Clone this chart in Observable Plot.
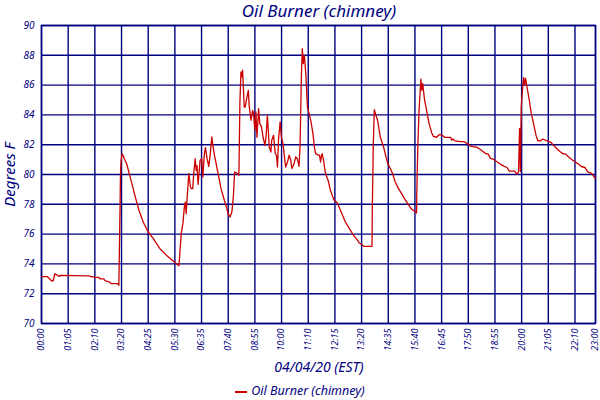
<!DOCTYPE html>
<html><head><meta charset="utf-8">
<script src="https://cdn.jsdelivr.net/npm/d3@7"></script>
<script src="https://cdn.jsdelivr.net/npm/@observablehq/plot@0.6"></script>
<style>
body{margin:0;background:#fff;font-family:"Noto Sans",sans-serif;}
#wrap{width:600px;height:400px;overflow:hidden;}
.title{height:22px;line-height:22px;font-size:17px;font-style:italic;color:#000080;text-align:center;padding-left:38px;}
.xlabel{height:22px;line-height:22px;font-size:14px;font-style:italic;color:#000080;text-align:center;padding-left:38px;}
.legend{height:22px;line-height:22px;margin-top:2px;font-size:12.5px;font-style:italic;color:#000080;text-align:center;}
.swatch{display:inline-block;width:12px;height:2px;background:#cc0000;vertical-align:middle;margin-right:4px;}
#chart svg{display:block;overflow:visible;}
</style></head><body>
<div id="wrap">
<div class="title">Oil Burner (chimney)</div>
<div id="chart"></div>
<div class="xlabel">04/04/20 (EST)</div>
<div class="legend"><span class="swatch"></span>Oil Burner (chimney)</div>
</div>
<script>
const tickLabels = ["00:00","01:05","02:10","03:20","04:25","05:30","06:35","07:40","08:55","10:00","11:10","12:15","13:20","14:35","15:40","16:45","17:50","18:55","20:00","21:05","22:10","23:00"];
const tickSamples = [0,13,26,39,52,65,78,91,104,117,130,143,156,169,182,195,208,221,234,247,260,270];
const yTicks = [70,72,74,76,78,80,82,84,86,88,90];
const sampleIdx = [0,2.8,4.9,5.7,6.5,7.3,8.6,9.3,22.8,26,28,28.5,30.4,30.9,33.3,34,37.2,37.7,37.9,38.3,38.5,38.8,39.3,41.5,43,45.5,47.5,49.6,52,54.5,57.7,61,64.2,65.9,67,67.4,68.1,68.9,69.7,70.1,70.5,71,71.8,72.6,73,73.7,74.2,74.9,75.4,75.8,76.3,77.3,78.1,78.6,79.4,79.9,80.7,81.5,82.2,83,83.4,84.3,85.9,87.5,89.1,90.2,90.9,91.9,92.8,93.5,94.1,95.6,96.2,96.7,97.2,97.7,98,98.8,99.3,100,100.8,101.2,102.1,102.9,103.3,104,104.5,105,105.8,106.4,107.2,108,108.9,109.4,110.1,111,111.8,112.2,113.1,113.9,114.5,115,115.5,116.3,116.9,117.7,118.6,119,119.9,120.7,121.5,122,123.1,123.9,124.7,125.5,126,126.7,127.1,127.6,128.1,128.8,129.6,130.4,131.2,132.3,133.1,133.6,134.9,135.5,136,136.5,136.8,137.6,138.4,139.7,140.8,141.7,142.5,144.1,145.7,148.1,150.6,152.2,153.8,154.9,156.2,157,161.1,161.2,161.7,162.2,163,163.8,165.1,166.7,167.9,168.8,170,171.1,172.4,174,175.6,176.9,178.5,180.2,181.8,182.8,182.9,183.4,184,184.9,185.3,185.8,186.6,187.8,188.9,190.2,191,192.6,193.8,195.3,196.6,199.4,199.9,200.5,201.5,204.2,206,208,209.1,212.3,213.9,216.4,217.7,218.8,220.4,222,223.6,225.3,226.9,228,230.6,231.7,232.5,233,233.4,233.8,234.3,235,235.5,235.9,236.6,237.7,238.7,239.8,241,241.9,243,244.4,245.5,246.8,248.3,249.5,251.1,252.8,253.9,255.5,256.8,258.4,260,261.7,263.3,264.9,266.2,268.1,269.8];
const tempF = [73.15,73.15,72.87,72.87,73.34,73.27,73.16,73.23,73.2,73.1,73.1,73.0,73.0,72.87,72.78,72.67,72.67,72.56,74.35,77.93,80.05,80.95,81.4,80.72,79.94,78.6,77.6,76.8,76.14,75.7,75.02,74.57,74.19,74.0,73.88,74.7,76.03,76.7,77.93,78.15,77.37,78.5,80.06,79.16,79.05,79.05,80.06,81.06,80.28,80.6,79.34,80.95,81.06,79.83,81.4,81.8,81.06,80.55,81.3,82.52,82.07,81.3,80.17,79.05,78.27,77.8,77.37,77.15,77.5,78.5,80.17,80.06,79.95,84.87,86.88,86.55,87.0,84.53,84.53,85.1,85.65,84.64,83.64,84.3,84.1,82.97,84.2,82.5,84.42,83.4,83.2,82.5,81.96,82.5,83.97,81.85,81.5,82.3,82.63,81.4,81.3,80.5,82.3,83.53,82.52,82.07,80.95,80.5,80.84,81.3,80.95,80.4,80.73,81.18,81.06,80.55,81.85,86.77,88.45,87.44,88.0,86.77,84.53,84.1,83.64,82.74,81.74,81.4,81.3,81.3,80.84,81.3,81.4,80.84,80.06,79.6,78.94,78.6,78.31,78.1,77.6,76.81,76.25,75.9,75.63,75.4,75.3,75.18,75.18,77.49,81.96,84.35,83.97,83.64,82.52,81.85,81.18,80.73,80.4,80.06,79.5,79.05,78.7,78.38,78.04,77.7,77.53,77.42,78.7,81.85,84.3,86.4,85.65,86.1,85.1,84.2,83.41,82.79,82.56,82.5,82.68,82.64,82.49,82.49,82.3,82.38,82.26,82.2,82.2,82.04,81.9,81.82,81.68,81.41,81.37,81.08,81.01,80.85,80.7,80.56,80.47,80.23,80.23,80.03,80.18,83.1,80.2,84.5,85.5,86.5,86.0,86.45,85.89,85.0,84.1,83.43,82.64,82.26,82.26,82.38,82.3,82.24,82.15,81.97,81.75,81.53,81.41,81.37,81.19,81.01,80.85,80.7,80.52,80.47,80.18,80.07,79.74];

const data = sampleIdx.map((s, i) => ({s, t: tempF[i]}));
const labelOf = new Map(tickSamples.map((s, i) => [s, tickLabels[i]]));
const navy = "#000080";

const chart = Plot.plot({
  width: 600,
  height: 334,
  marginTop: 3,
  marginBottom: 33,
  marginLeft: 41,
  marginRight: 5,
  style: {fontFamily: "'Noto Sans', sans-serif", fontStyle: "italic", color: navy, background: "white", overflow: "visible"},
  x: {domain: [0, 270]},
  y: {domain: [70, 90]},
  marks: [
    Plot.gridX(tickSamples, {stroke: navy, strokeOpacity: 1, strokeWidth: 1.4}),
    Plot.gridY(yTicks, {stroke: navy, strokeOpacity: 1, strokeWidth: 1.4}),
    Plot.frame({stroke: navy, strokeWidth: 1.5}),
    Plot.axisX(tickSamples, {tickFormat: d => labelOf.get(d), tickRotate: -90, tickSize: 0, tickPadding: 5, label: null, fontSize: 9, fill: navy}),
    Plot.axisY(yTicks, {tickSize: 0, tickPadding: 7, label: null, fontSize: 10, fill: navy}),
    Plot.text(["Degrees F"], {frameAnchor: "left", textAnchor: "middle", dx: -31.5, rotate: -90, fontSize: 15, fill: navy, fontStyle: "italic"}),
    Plot.line(data, {x: "s", y: "t", stroke: "#cc0000", strokeWidth: 1.3})
  ]
});
document.getElementById("chart").appendChild(chart);
</script>
</body></html>
